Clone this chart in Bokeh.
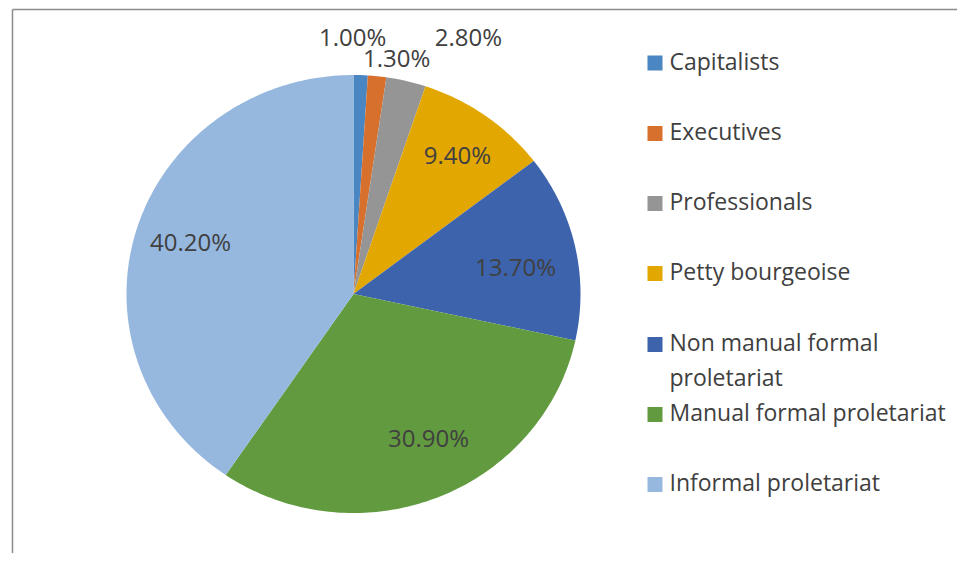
import math
from bokeh.plotting import figure
from bokeh.models import Range1d
from bokeh.core.properties import value
from bokeh.embed import file_html
from bokeh.resources import INLINE

# ---- data ----
categories = ["Capitalists", "Executives", "Professionals", "Petty bourgeoise",
              "Non manual formal proletariat", "Manual formal proletariat",
              "Informal proletariat"]
shares = [1.0, 1.3, 2.8, 9.4, 13.7, 30.9, 40.2]
labels = ["1.00%", "1.30%", "2.80%", "9.40%", "13.70%", "30.90%", "40.20%"]
legend_lines = [["Capitalists"], ["Executives"], ["Professionals"], ["Petty bourgeoise"],
                ["Non manual formal", "proletariat"], ["Manual formal proletariat"],
                ["Informal proletariat"]]
colors = ["#4A86C1", "#D8702D", "#959595", "#E2A700", "#3C63AC", "#629B3F", "#96B8DF"]

# ---- layout / style ----
W, H = 957, 553
cx, cy, rx, ry = 353.0, 293.5, 227.0, 219.0
# label placement (angle in degrees clockwise from 12 o'clock, radius as fraction)
label_ang = [-0.2, 10.1, 23.5, 36.1, 80.8, 153.7, 287.6]
label_rad = [1.164, 1.083, 1.27, 0.777, 0.723, 0.746, 0.753]
legend_y = [62.5, 133, 203, 273, 344, 414, 484]
legend_sq_x, legend_tx_x, line_h = 654.5, 669, 35
text_dy = -2.5
FONT = value("Open Sans")
TXT = "#404040"

p = figure(width=W, height=H, x_range=Range1d(0, W), y_range=Range1d(H, 0),
           output_backend="svg", toolbar_location=None, min_border=0)
p.axis.visible = False
p.grid.visible = False
p.outline_line_color = None
p.background_fill_color = "white"

# frame (left and top edges visible)
p.segment(x0=[12, 12], y0=[9, 9], x1=[12, W], y1=[H, 9],
          line_color="#8c8c8c", line_width=1.5)

# pie slices
total = sum(shares)
xs, ys = [], []
start = 0.0
for v in shares:
    a0 = start / total * 2 * math.pi
    a1 = (start + v) / total * 2 * math.pi
    n = max(4, int((a1 - a0) / (2 * math.pi) * 360))
    px, py = [cx], [cy]
    for i in range(n + 1):
        t = a0 + (a1 - a0) * i / n
        px.append(cx + rx * math.sin(t))
        py.append(cy - ry * math.cos(t))
    xs.append(px)
    ys.append(py)
    start += v
p.patches(xs=xs, ys=ys, fill_color=colors, line_color=None)

# data labels
lx = [cx + rx * r * math.sin(math.radians(a)) for a, r in zip(label_ang, label_rad)]
ly = [cy - ry * r * math.cos(math.radians(a)) + text_dy for a, r in zip(label_ang, label_rad)]
p.text(x=lx, y=ly, text=labels, text_font=FONT, text_font_size="24px",
       text_color=TXT, text_align="center", text_baseline="middle")

# legend
p.rect(x=[legend_sq_x] * len(categories), y=legend_y, width=15, height=15,
       fill_color=colors, line_color=None)
tx, ty, tt = [], [], []
for lines, y in zip(legend_lines, legend_y):
    for k, s in enumerate(lines):
        tx.append(legend_tx_x)
        ty.append(y + k * line_h + text_dy)
        tt.append(s)
p.text(x=tx, y=ty, text=tt, text_font=FONT, text_font_size="23px",
       text_color=TXT, text_align="left", text_baseline="middle")

open("out.html", "w").write(file_html(p, INLINE))
